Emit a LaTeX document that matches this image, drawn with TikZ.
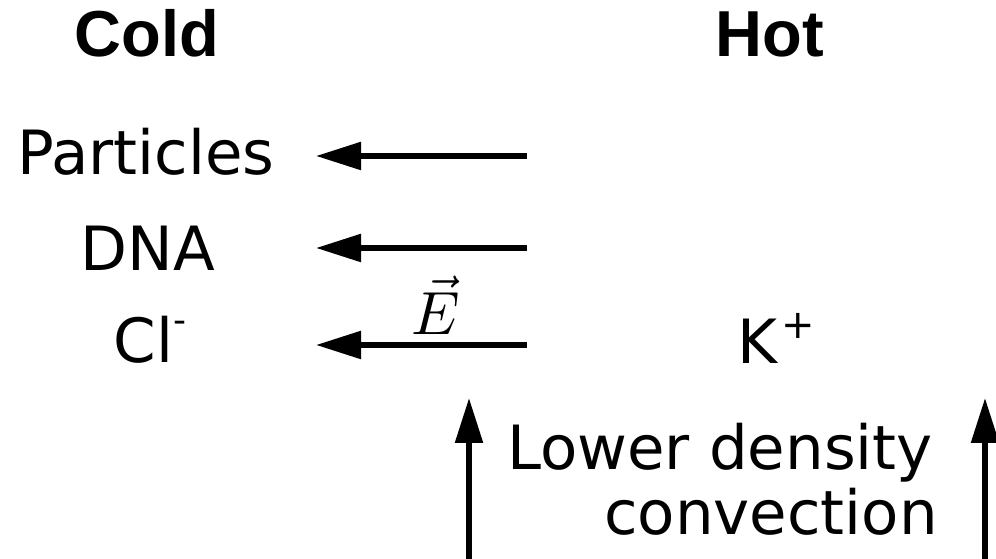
\documentclass[tikz,border=0pt]{standalone}
\usepackage{graphicx}
\usepackage{fontspec}
\setmainfont{DejaVu Sans}
\newfontfamily\headfont{Liberation Sans}
\usetikzlibrary{positioning,arrows.meta}

\tikzset{
  lbl/.style={inner sep=0pt, anchor=base, font=\fontsize{61}{70}\selectfont},
  head/.style={lbl, font=\headfont\fontsize{65}{70}\selectfont\bfseries},
  push/.style={line width=5.5, -{Triangle[length=45pt,width=27pt]}}
}

\begin{document}
\begin{tikzpicture}[x=1pt,y=1pt]
\useasboundingbox (0,0) rectangle (996,559);
% column heads
\node[head] (cold) at (147,502) {Cold};
\node[head] (hot) at (770,502) {Hot};
% things that move to the cold side
\node[lbl] (part) at (146,384) {Particles};
\node[lbl] (dna) at (148,288) {DNA};
\node[lbl] (cl) at (150,196) {Cl\raisebox{30pt}{\fontsize{36}{36}\selectfont -}};
\node[lbl] (k) at (776,195) {K\kern4pt\raisebox{25pt}{\fontsize{40}{40}\selectfont +}};
\node[lbl, font=\normalsize] (efield) at (436,224) {\scalebox{6.1}{$\vec{E}$}};
\node[lbl] (lower) at (720,89) {Lower density};
\node[lbl] (conv) at (771,24) {convection};
% arrow ends
\coordinate (p1) at (527,403);
\coordinate (p2) at (316,403);
\coordinate (d1) at (527,311);
\coordinate (d2) at (316,311);
\coordinate (c1) at (527,214);
\coordinate (c2) at (316,214);
\coordinate (u1) at (469,0);
\coordinate (u2) at (469,161);
\coordinate (v1) at (985,0);
\coordinate (v2) at (985,161);
\draw[push](p1) -- (p2);
\draw[push](d1) -- (d2);
\draw[push](c1) -- (c2);
\draw[push](u1) -- (u2);
\draw[push](v1) -- (v2);
\end{tikzpicture}
\end{document}
